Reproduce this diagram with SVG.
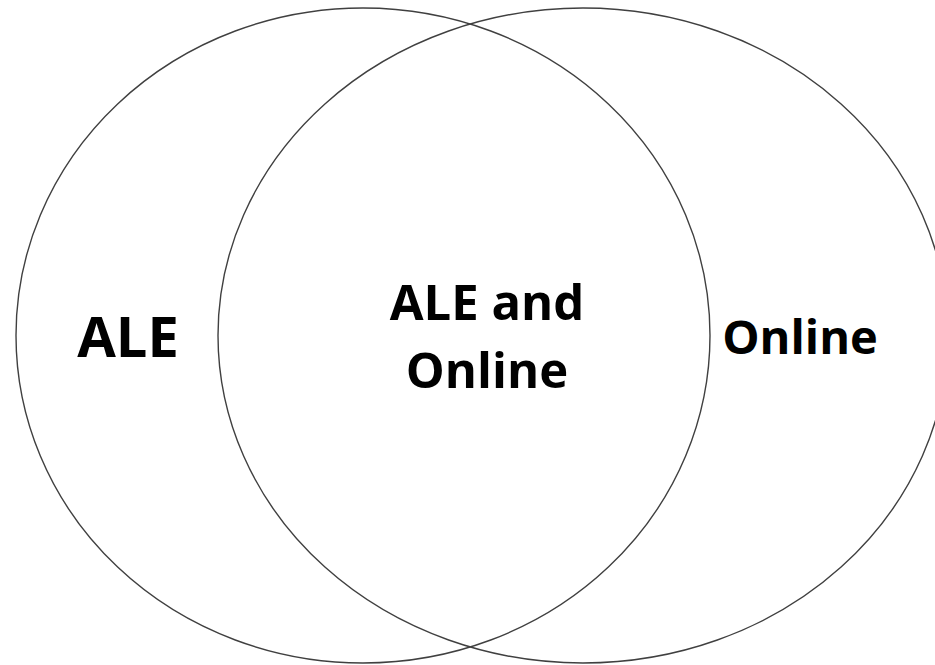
<svg xmlns="http://www.w3.org/2000/svg" width="935" height="665" viewBox="0 0 935 665">
<style>
.c{fill:none;stroke:#404040;stroke-width:1.4}
.t{font-family:"Open Sans","DejaVu Sans",sans-serif;font-weight:bold;fill:#000;text-anchor:middle}
</style>
<rect width="935" height="665" fill="#fff"/>
<g id="connectors"/>
<g id="ale">
<ellipse class="c" cx="363" cy="335.5" rx="347" ry="327.5"/>
<text class="t" x="128" y="357" font-size="56">ALE</text>
</g>
<g id="online">
<ellipse class="c" cx="583" cy="335.5" rx="365" ry="327.5"/>
<text class="t" x="800" y="354" font-size="47">Online</text>
</g>
<g id="both">
<text class="t" x="487" y="320" font-size="49">ALE and</text>
<text class="t" x="487" y="388" font-size="49">Online</text>
</g>
</svg>
